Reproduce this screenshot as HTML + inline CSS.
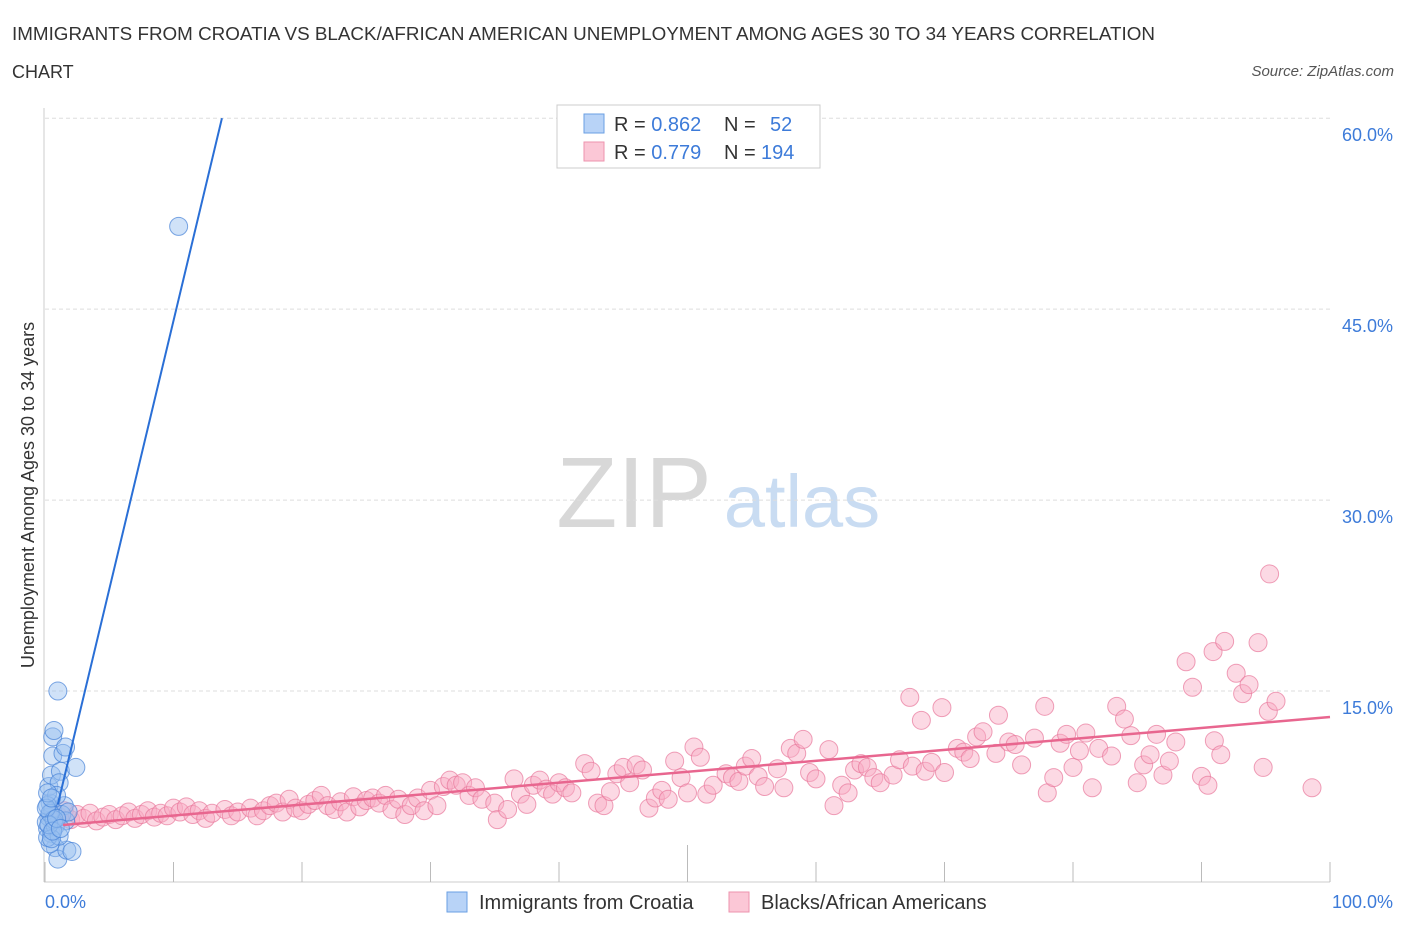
<!DOCTYPE html>
<html><head><meta charset="utf-8"><style>
body{margin:0;background:#fff;font-family:"Liberation Sans",sans-serif}
svg text{font-family:"Liberation Sans",sans-serif}
</style></head><body>
<svg id="c" width="1406" height="930" xmlns="http://www.w3.org/2000/svg">
<text x="12" y="40" font-size="18" fill="#333" textLength="1143" lengthAdjust="spacingAndGlyphs">IMMIGRANTS FROM CROATIA VS BLACK/AFRICAN AMERICAN UNEMPLOYMENT AMONG AGES 30 TO 34 YEARS CORRELATION</text>
<text x="12" y="78" font-size="18" fill="#333">CHART</text>
<text x="1394" y="76" font-size="15" fill="#555" font-style="italic" text-anchor="end">Source: ZipAtlas.com</text>
<text x="634" y="527" font-size="100" fill="#d8d8d8" font-family="Liberation Serif" text-anchor="middle">ZIP</text>
<text x="802" y="527" font-size="74" fill="#c9dcf2" text-anchor="middle">atlas</text>
<g id="grid"></g>
<line x1="44" y1="108" x2="44" y2="882" stroke="#ccc"/>
<line x1="44" y1="882" x2="1330" y2="882" stroke="#ccc"/>
<g id="ticks"></g>
<text transform="translate(34,495) rotate(-90)" font-size="18" fill="#333" text-anchor="middle">Unemployment Among Ages 30 to 34 years</text>
<text x="45" y="908" font-size="18" fill="#3d7bd9">0.0%</text>
<text x="1393" y="908" font-size="18" fill="#3d7bd9" text-anchor="end">100.0%</text>
<g id="pink"></g><g id="blue"></g><g id="lines"></g>
<g>
<rect x="557" y="105" width="263" height="63" fill="#fff" stroke="#ccc"/>
<rect x="584" y="114" width="20" height="19" fill="#b8d3f7" stroke="#6a9fe3"/>
<rect x="584" y="142" width="20" height="19" fill="#fbc7d6" stroke="#ee93ae"/>
<text x="614" y="131" font-size="20" fill="#333">R = <tspan fill="#3d7bd9">0.862</tspan><tspan x="724">N = </tspan><tspan x="770" fill="#3d7bd9">52</tspan></text>
<text x="614" y="159" font-size="20" fill="#333">R = <tspan fill="#3d7bd9">0.779</tspan><tspan x="724">N = </tspan><tspan x="761" fill="#3d7bd9">194</tspan></text>
</g>
<g>
<rect x="447" y="892" width="20" height="20" fill="#b8d3f7" stroke="#6a9fe3"/>
<text x="479" y="909" font-size="20" fill="#333">Immigrants from Croatia</text>
<rect x="729" y="892" width="20" height="20" fill="#fbc7d6" stroke="#ee93ae"/>
<text x="761" y="909" font-size="20" fill="#333">Blacks/African Americans</text>
</g>
</svg>
<script>
const yTicks=[15,30,45,60];
const yTickLabels=["15.0%","30.0%","45.0%","60.0%"];
const xTicks=[0,10,20,30,40,50,60,70,80,90,100];
const blueX=[0.2,0.3,0.4,0.5,0.6,0.3,0.5,0.6,0.6,0.7,1.0,1.2,1.1,1.4,1.6,2.4,1.5,1.3,1.6,1.8,0.8,1.0,1.7,2.1,0.4,0.2,0.1,0.8,0.9,0.2,0.4,0.7,0.1,1.1,0.5,10.4,0.3,0.6,0.9,1.2,0.2,0.5];
const blueY=[4.2,5.1,6.2,3.8,5.6,7.5,8.4,9.9,11.4,11.9,15.0,8.7,7.8,10.1,10.6,9.0,6.0,5.3,4.8,5.5,2.7,1.8,2.5,2.4,3.0,3.5,4.7,4.4,6.8,6.0,5.4,4.9,5.8,3.6,3.4,51.5,4.5,4.0,5.0,4.2,7.0,6.6];
const pinkX=[1,1.5,2,2.5,3,3.5,4,4.5,5,5.5,6,6.5,7,7.5,8,8.5,9,9.5,10,10.5,11,11.5,12,12.5,13,14,14.5,15,16,16.5,17,17.5,18,18.5,19,19.5,20,20.5,21,21.5,22,22.5,23,23.5,24,24.5,25,25.5,26,26.5,27,27.5,28,28.5,29,29.5,30,30.5,31,31.5,32,32.5,33,33.5,34,35,35.2,36,36.5,37,37.5,38,38.5,39,39.5,40,40.5,41,42,42.5,43,43.5,44,44.5,45,45.5,46,46.5,47,47.5,48,48.5,49,49.5,50,50.5,51,51.5,52,53,53.5,54,54.5,55,55.5,56,57,57.5,58,58.5,59,59.5,60,61,61.4,62,62.5,63,63.5,64,64.5,65,66,66.5,67.3,67.5,68.2,68.5,69,69.8,70,71,71.5,72,72.5,73,74,74.2,75,75.5,76,77,77.8,78,78.5,79,79.5,80,80.5,81,81.5,82,83,83.4,84,84.5,85,85.5,86,86.5,87,87.5,88,88.8,89.3,90,90.5,91,91.5,90.9,91.8,92.7,93.2,93.7,94.4,94.8,95.3,95.2,95.8,98.6];
const pinkY=[5.2,5.6,4.9,5.3,5.0,5.4,4.8,5.1,5.3,4.9,5.2,5.5,5.0,5.3,5.6,5.1,5.4,5.2,5.8,5.5,5.9,5.3,5.6,5.0,5.4,5.7,5.2,5.5,5.8,5.2,5.6,6.0,6.2,5.5,6.5,5.8,5.6,6.1,6.4,6.8,6.0,5.7,6.3,5.5,6.7,5.9,6.4,6.6,6.2,6.8,5.7,6.5,5.3,6.0,6.6,5.6,7.2,6.0,7.5,8.0,7.6,7.8,6.8,7.4,6.5,6.2,4.9,5.7,8.1,6.9,6.1,7.6,8.0,7.3,6.9,7.8,7.4,7.0,9.3,8.7,6.2,6.0,7.1,8.5,9.0,7.8,9.2,8.8,5.8,6.6,7.2,6.5,9.5,8.2,7.0,10.6,9.8,6.9,7.6,8.5,8.2,7.9,9.1,9.7,8.3,7.5,8.9,7.4,10.5,10.1,11.2,8.6,8.1,10.4,6.0,7.6,7.0,8.8,9.3,9.0,8.2,7.8,8.4,9.6,14.5,9.1,12.7,8.7,9.4,13.7,8.6,10.5,10.2,9.7,11.4,11.8,10.1,13.1,11.0,10.8,9.2,11.3,13.8,7.0,8.2,10.9,11.6,9.0,10.3,11.7,7.4,10.5,9.9,13.8,12.8,11.5,7.8,9.2,10.0,11.6,8.4,9.5,11.0,17.3,15.3,8.3,7.6,11.1,10.0,18.1,18.9,16.4,14.8,15.5,18.8,9.0,24.2,13.4,14.2,7.4];
const blueFit=[1.89,4.22];   // intercept, slope
const pinkFit=[4.36,0.086];
const X=v=>45+v*12.85, Y=v=>882-v*12.73;
const NS="http://www.w3.org/2000/svg";
function mk(tag,attrs,parent){const e=document.createElementNS(NS,tag);for(const k in attrs)e.setAttribute(k,attrs[k]);document.getElementById(parent).appendChild(e);return e;}
yTicks.forEach((t,i)=>{
 const l=mk('line',{x1:45,x2:1330,y1:Y(t),y2:Y(t),stroke:'#ddd','stroke-dasharray':'4,3'},'grid');
 
 
 const tx=mk('text',{x:1393,y:Y(t)+23,'font-size':18,fill:'#3d7bd9','text-anchor':'end'},'grid');
 tx.textContent=yTickLabels[i];
 
 
});
xTicks.forEach(t=>{
 const l=mk('line',{x1:X(t),x2:X(t),y1:t===50?845:862,y2:882,stroke:'#bbb'},'ticks');
 
 
});
pinkX.forEach((x,i)=>{
 const c=mk('circle',{cx:X(x),cy:Y(pinkY[i]),r:9,fill:'rgba(248,170,195,0.45)',stroke:'rgba(232,120,155,0.7)','stroke-width':1},'pink');
 
 
});
blueX.forEach((x,i)=>{
 const c=mk('circle',{cx:X(x),cy:Y(blueY[i]),r:9,fill:'rgba(150,190,240,0.45)',stroke:'rgba(70,130,215,0.7)','stroke-width':1},'blue');
 
 
});
const bx0=1.0, bx1=(60-blueFit[0])/blueFit[1];
const bl=mk('line',{x1:X(bx0),y1:Y(blueFit[0]+blueFit[1]*bx0),x2:X(bx1),y2:Y(60),stroke:'#2a6fd6','stroke-width':2},'lines');


const pl=mk('line',{x1:X(1.4),y1:Y(pinkFit[0]+pinkFit[1]*1.4),x2:X(100),y2:Y(pinkFit[0]+pinkFit[1]*100),stroke:'#e8668f','stroke-width':2.5},'lines');


</script>
</body></html>
